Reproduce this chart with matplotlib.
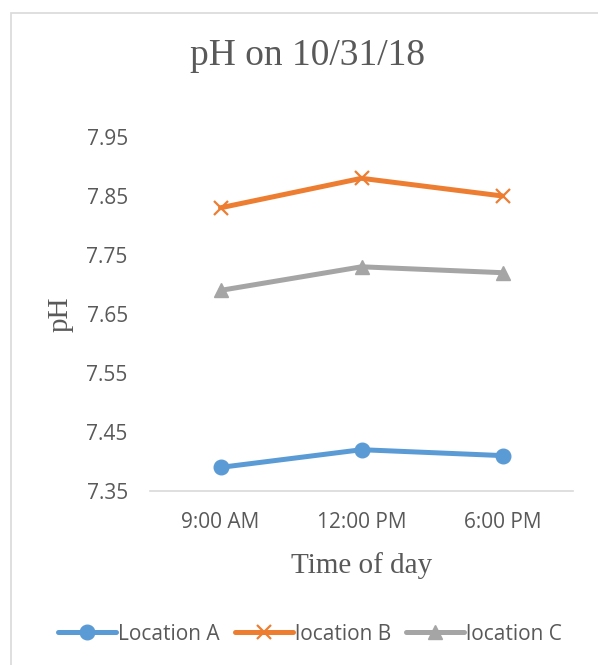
import matplotlib
matplotlib.use("Agg")
import matplotlib.pyplot as plt
from matplotlib.patches import Rectangle

times = ["9:00 AM", "12:00 PM", "6:00 PM"]
loc_a = [7.39, 7.42, 7.41]
loc_b = [7.83, 7.88, 7.85]
loc_c = [7.69, 7.73, 7.72]
series_names = ["Location A", "location B", "location C"]
y_ticks = [7.35, 7.45, 7.55, 7.65, 7.75, 7.85, 7.95]

text_grey = "#595959"
sans = ["Open Sans", "DejaVu Sans"]
serif = ["Liberation Serif", "DejaVu Serif"]

fig = plt.figure(figsize=(5.98, 6.65), dpi=100)
fig.patch.set_facecolor("white")

# chart frame
fig.add_artist(Rectangle((11 / 598, -0.1), 1.2, 1 - 13 / 665 + 0.1,
                         transform=fig.transFigure, fill=False,
                         edgecolor="#D9D9D9", linewidth=1.2))

ax = fig.add_axes([150 / 598, 1 - 491 / 665, 423 / 598, 354 / 665])
x = [i + 0.5 for i in range(len(times))]

ax.plot(x, loc_a, color="#5B9BD5", lw=3.6, marker="o", ms=10.5,
        label=series_names[0], solid_capstyle="round")
ax.plot(x, loc_b, color="#ED7D31", lw=3.6, marker="x", ms=10, mew=1.6,
        label=series_names[1], solid_capstyle="round")
ax.plot(x, loc_c, color="#A5A5A5", lw=3.6, marker="^", ms=10.5,
        label=series_names[2], solid_capstyle="round")

ax.set_xlim(0, len(times))
ax.set_ylim(y_ticks[0], y_ticks[-1])
ax.set_xticks(x)
ax.set_xticklabels(times)
ax.set_yticks(y_ticks)
ax.set_yticklabels([f"{v:.2f}" for v in y_ticks])
ax.tick_params(length=0, labelsize=15, colors=text_grey)
ax.tick_params(axis="x", pad=15)
ax.tick_params(axis="y", pad=16)
for lab in ax.get_xticklabels() + ax.get_yticklabels():
    lab.set_family(sans)

for s in ["top", "right", "left"]:
    ax.spines[s].set_visible(False)
ax.spines["bottom"].set_color("#D9D9D9")
ax.spines["bottom"].set_linewidth(1.2)

ax.set_xlabel("Time of day", family=serif, fontsize=21, color=text_grey, labelpad=14)
ax.set_ylabel("pH", family=serif, fontsize=21, color=text_grey, labelpad=9)

fig.text(307 / 598, 1 - 65 / 665, "pH on 10/31/18", family=serif, fontsize=27,
         color=text_grey, ha="center", va="baseline")

leg = fig.legend(loc="center", bbox_to_anchor=(310 / 598, 1 - 634 / 665), ncol=3,
                 frameon=False, prop={"family": sans, "size": 15},
                 handlelength=2.8, handletextpad=0.1, columnspacing=0.7)
for t in leg.get_texts():
    t.set_color(text_grey)

fig.savefig("out.png", dpi=100)
